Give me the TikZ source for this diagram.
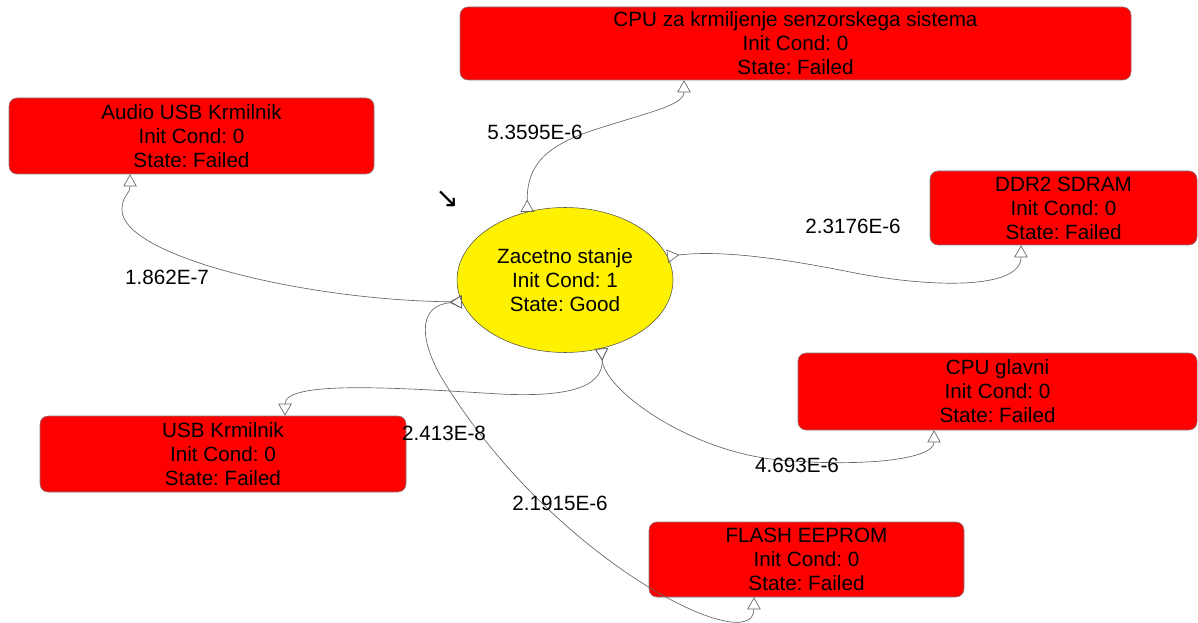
\documentclass[tikz,border=0pt]{standalone}
\usepackage{fontspec}
\setmainfont{Liberation Sans}
\newfontfamily\arrowfont{DejaVu Sans}
\usetikzlibrary{arrows.meta,shapes.geometric}
\begin{document}
\frenchspacing
\begin{tikzpicture}[x=0.75pt, y=-0.75pt, font=\fontsize{15.5pt}{18pt}\selectfont,
	failed/.style={rectangle, rounded corners=6pt, draw=gray, fill=red, align=center, inner sep=0pt},
	good/.style={ellipse, draw=black!70, fill=yellow, align=center, inner sep=0pt},
	rate/.style={inner sep=0pt},
	link/.style={draw=gray!80!black, line width=0.5pt, arrows={Triangle[open,reversed,length=9pt,width=10pt]-Triangle[open,length=9pt,width=10pt]}}]
	\useasboundingbox (0,0) rectangle (1198,623);

	\node[good, minimum width=162pt, minimum height=108.75pt] (zac) at (565,280) {Zacetno stanje\\Init Cond: 1\\State: Good};
	\node[failed, minimum width=503.25pt, minimum height=54.75pt] (cpuz) at (795.5,43.5) {CPU za krmiljenje senzorskega sistema\\Init Cond: 0\\State: Failed};
	\node[failed, minimum width=273.75pt, minimum height=57pt] (audio) at (191.5,136) {Audio USB Krmilnik\\Init Cond: 0\\State: Failed};
	\node[failed, minimum width=200.25pt, minimum height=55.5pt] (ddr) at (1063.5,208) {DDR2 SDRAM\\Init Cond: 0\\State: Failed};
	\node[failed, minimum width=299.25pt, minimum height=57.75pt] (glavni) at (997.5,391.5) {CPU glavni\\Init Cond: 0\\State: Failed};
	\node[failed, minimum width=274.5pt, minimum height=57pt] (usb) at (223,454) {USB Krmilnik\\Init Cond: 0\\State: Failed};
	\node[failed, minimum width=236.25pt, minimum height=56.25pt] (flash) at (806.5,559.5) {FLASH EEPROM\\Init Cond: 0\\State: Failed};
	\node[inner sep=0pt, font=\fontsize{21pt}{21pt}\selectfont] (mark) at (447,199) {\arrowfont ↘};

	\draw[link] (zac.119) .. controls (527,165) and (545,145) .. (600,128) .. controls (650,112) and (684,105) .. ([xshift=-83.6pt]cpuz.south);
	\draw[link] (zac.192) .. controls (300,300) and (122,255) .. (122,210) .. controls (122,195) and (130,195) .. ([xshift=-46.1pt]audio.south);
	\draw[link] (zac.13) .. controls (720,250) and (780,258) .. (850,272) .. controls (930,288) and (1021,290) .. ([xshift=-31.9pt]ddr.south);
	\draw[link] (zac.298) .. controls (604,390) and (690,452) .. (780,460) .. controls (860,467) and (934,460) .. ([xshift=-47.6pt]glavni.south);
	\draw[link] (zac.298) .. controls (604,390) and (560,397) .. (500,394) .. controls (400,388) and (285,380) .. ([xshift=46.5pt]usb.north);
	\draw[link] (zac.192) .. controls (420,305) and (418,335) .. (440,375) .. controls (550,560) and (754,660) .. ([xshift=-39.4pt]flash.south);

	\node[rate] (r1) at (535,132) {5.3595E-6};
	\node[rate] (r2) at (167,277) {1.862E-7};
	\node[rate] (r3) at (853,226) {2.3176E-6};
	\node[rate] (r4) at (444,433) {2.413E-8};
	\node[rate] (r5) at (797,465) {4.693E-6};
	\node[rate] (r6) at (560,503) {2.1915E-6};
\end{tikzpicture}
\end{document}
